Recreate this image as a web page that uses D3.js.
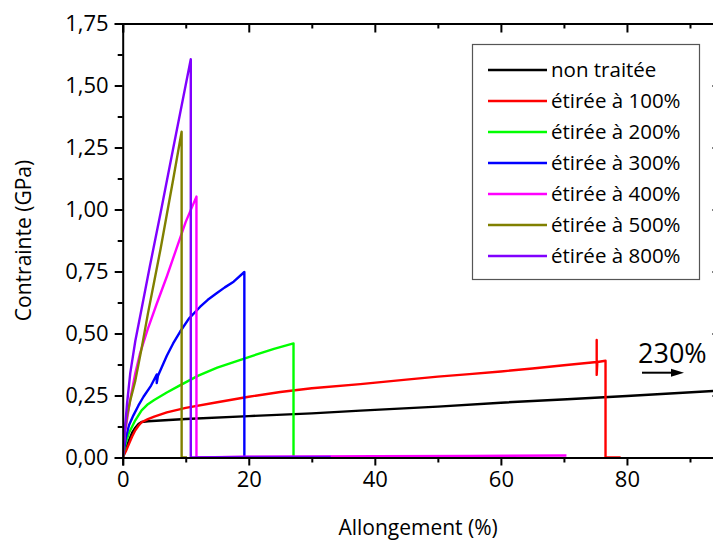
<!DOCTYPE html>
<html>
<head>
<meta charset="utf-8">
<script src="https://cdn.jsdelivr.net/npm/d3@7/dist/d3.min.js"></script>
<style>
  html, body { margin: 0; padding: 0; background: #fff; }
  svg { display: block; }
  text { font-family: "Open Sans", "Noto Sans", sans-serif; fill: #000; }
</style>
</head>
<body>
<script>
// ---------- DATA ----------
const seriesNames = ["non traitée", "étirée à 100%", "étirée à 200%", "étirée à 300%", "étirée à 400%", "étirée à 500%", "étirée à 800%"];
const seriesColors = ["#000000", "#ff0000", "#00ff00", "#0000ff", "#ff00ff", "#808000", "#8000ff"];

// [allongement (%), contrainte (GPa)]
const nonTraitee = [[0,0],[0.5,0.035],[1,0.07],[1.5,0.1],[2,0.12],[2.5,0.135],[3,0.143],[4,0.146],[6,0.149],[10,0.155],[20,0.167],[30,0.178],[37.7,0.189],[50,0.205],[60,0.221],[70.5,0.235],[80,0.248],[93.7,0.268],[95,0.27]];
const etiree100 = [[0,0],[0.5,0.025],[1,0.055],[1.5,0.085],[2,0.11],[2.5,0.128],[3,0.142],[4,0.155],[5,0.165],[7,0.182],[10,0.2],[15,0.223],[20,0.245],[25,0.264],[30,0.279],[37.7,0.296],[45,0.314],[50,0.326],[55,0.336],[60,0.347],[65,0.359],[70,0.372],[75.2,0.385],[75.2,0.474],[75.2,0.333],[75.3,0.385],[76.6,0.39],[76.6,0],[79,0]];
const etiree200 = [[0,0],[0.5,0.06],[1,0.1],[2,0.15],[3,0.19],[4,0.215],[5,0.232],[7,0.262],[9,0.29],[12,0.33],[15,0.362],[20,0.405],[24,0.438],[27.1,0.46],[27.1,0],[28,0]];
const etiree300 = [[0,0],[0.5,0.08],[1,0.13],[1.7,0.17],[2.5,0.21],[3.3,0.245],[4.5,0.29],[5.4,0.335],[5.4,0.3],[5.6,0.33],[7,0.41],[8,0.46],[9.1,0.507],[10.5,0.56],[12.3,0.608],[13.5,0.636],[14.9,0.662],[16.2,0.686],[17.6,0.709],[19.3,0.748],[19.3,0],[20,0]];
const etiree400 = [[0,0],[0.37,0.1],[1.16,0.23],[2,0.34],[2.75,0.42],[4,0.52],[5.4,0.62],[7,0.73],[8.5,0.84],[10,0.95],[11.7,1.052],[11.7,0],[20,0.003],[40,0.005],[55,0.006],[70.4,0.008]];
const etiree500 = [[0,0],[0.3,0.1],[0.7,0.17],[1.2,0.23],[2,0.31],[3,0.44],[4,0.58],[5,0.71],[6,0.84],[7,0.98],[8,1.12],[9.35,1.314],[9.35,0],[10.2,0]];
const etiree800 = [[0,0],[0.3,0.1],[0.7,0.22],[1.2,0.34],[2,0.47],[3,0.6],[4.3,0.77],[6,0.985],[8,1.245],[10.8,1.606],[10.8,0],[20,0.002],[33,0.002]];
const allSeries = [nonTraitee, etiree100, etiree200, etiree300, etiree400, etiree500, etiree800];

const xMajorTicks = [0, 20, 40, 60, 80];
const xMinorTicks = [10, 30, 50, 70, 90];
const yMajorTicks = [0, 0.25, 0.5, 0.75, 1.0, 1.25, 1.5, 1.75];
const yMinorTicks = [0.125, 0.375, 0.625, 0.875, 1.125, 1.375, 1.625];
const xTitle = "Allongement (%)";
const yTitle = "Contrainte (GPa)";
const annotation = "230%";

// ---------- CHART ----------
const W = 713, H = 543;
const svg = d3.select("body").append("svg").attr("width", W).attr("height", H);

const x = d3.scaleLinear().domain([0, 95]).range([122.7, 721.5]);
const y = d3.scaleLinear().domain([0, 1.75]).range([457.5, 23.5]);

const fmtY = d => d3.format(".2f")(d).replace(".", ",");

function styleAxis(g) {
  g.selectAll("path.domain").attr("stroke", "#000").attr("stroke-width", 2);
  g.selectAll(".tick line").attr("stroke", "#000").attr("stroke-width", 2);
  g.selectAll(".tick text").attr("font-size", 22).attr("font-family", "'Open Sans', sans-serif").attr("fill", "#000");
}

// curves
const line = d3.line().x(d => x(d[0])).y(d => y(d[1]));
svg.append("defs").append("clipPath").attr("id", "clip")
  .append("rect").attr("x", x(0)).attr("y", 0).attr("width", x(95) - x(0)).attr("height", y(0) + 1);

const curves = svg.append("g").attr("clip-path", "url(#clip)");
allSeries.forEach((s, i) => {
  curves.append("path").datum(s)
    .attr("d", line)
    .attr("fill", "none")
    .attr("stroke", seriesColors[i])
    .attr("stroke-width", 2.4)
    .attr("stroke-linejoin", "round");
});

// bottom axis
const gB = svg.append("g").attr("transform", `translate(0,${y(0)})`)
  .call(d3.axisBottom(x).tickValues(xMajorTicks).tickSize(8).tickPadding(6).tickFormat(d3.format("d")));
styleAxis(gB);
const gBm = svg.append("g").attr("transform", `translate(0,${y(0)})`)
  .call(d3.axisBottom(x).tickValues(xMinorTicks).tickSize(5).tickFormat(""));
styleAxis(gBm); gBm.select("path.domain").remove();

// top axis (inward ticks)
const gT = svg.append("g").attr("transform", `translate(0,${y(1.75)})`)
  .call(d3.axisTop(x).tickValues(xMajorTicks).tickSize(-9).tickFormat(""));
styleAxis(gT);
const gTm = svg.append("g").attr("transform", `translate(0,${y(1.75)})`)
  .call(d3.axisTop(x).tickValues(xMinorTicks).tickSize(-5).tickFormat(""));
styleAxis(gTm); gTm.select("path.domain").remove();

// left axis
const gL = svg.append("g").attr("transform", `translate(${x(0)},0)`)
  .call(d3.axisLeft(y).tickValues(yMajorTicks).tickSize(8).tickPadding(6).tickFormat(fmtY));
styleAxis(gL);
const gLm = svg.append("g").attr("transform", `translate(${x(0)},0)`)
  .call(d3.axisLeft(y).tickValues(yMinorTicks).tickSize(5).tickFormat(""));
styleAxis(gLm); gLm.select("path.domain").remove();

// right axis (inward ticks, mostly off-canvas)
const gR = svg.append("g").attr("transform", `translate(${x(95)},0)`)
  .call(d3.axisRight(y).tickValues(yMajorTicks).tickSize(-9).tickFormat(""));
styleAxis(gR);
const gRm = svg.append("g").attr("transform", `translate(${x(95)},0)`)
  .call(d3.axisRight(y).tickValues(yMinorTicks).tickSize(-5).tickFormat(""));
styleAxis(gRm); gRm.select("path.domain").remove();

// axis titles
svg.append("text").attr("x", (x(0) + x(95)) / 2 - 4).attr("y", 535)
  .attr("text-anchor", "middle").attr("font-size", 21).text(xTitle);
svg.append("text").attr("transform", `translate(31,${(y(0) + y(1.75)) / 2}) rotate(-90)`)
  .attr("text-anchor", "middle").attr("font-size", 21).text(yTitle);

// legend
const leg = svg.append("g");
leg.append("rect").attr("x", 472.5).attr("y", 44.5).attr("width", 227).attr("height", 235)
  .attr("fill", "#fff").attr("stroke", "#555").attr("stroke-width", 1.2);
seriesNames.forEach((n, i) => {
  const yy = 70 + i * 31;
  leg.append("line").attr("x1", 488).attr("x2", 547).attr("y1", yy).attr("y2", yy)
    .attr("stroke", seriesColors[i]).attr("stroke-width", 2.5);
  leg.append("text").attr("x", 551).attr("y", yy).attr("dy", "0.35em")
    .attr("font-size", 20.5).text(n);
});

// annotation
svg.append("text").attr("x", 638).attr("y", 363).attr("font-size", 27).text(annotation);
svg.append("line").attr("x1", 642).attr("x2", 673).attr("y1", 372.7).attr("y2", 372.7)
  .attr("stroke", "#000").attr("stroke-width", 2);
svg.append("path").attr("d", "M 671 368.7 L 684 372.7 L 671 376.7 Z").attr("fill", "#000");
</script>
</body>
</html>
